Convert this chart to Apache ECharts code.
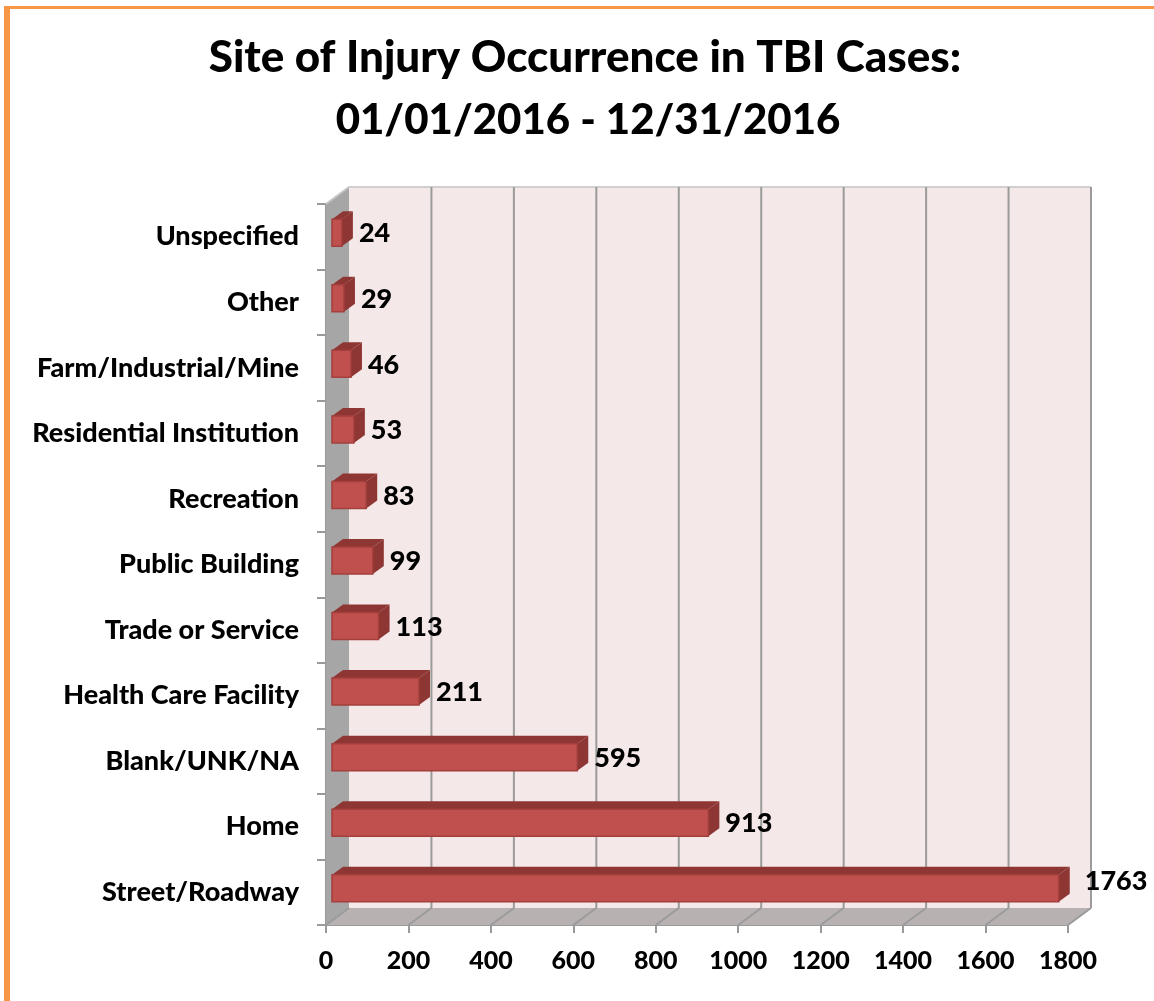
<!DOCTYPE html>
<html><head><meta charset="utf-8">
<style>html,body{margin:0;padding:0;background:#fff}#c{width:1154px;height:1001px}</style>
<script src="https://cdn.jsdelivr.net/npm/echarts@6/dist/echarts.min.js"></script>
</head><body><div id="c"></div>
<script>
const categories = ['Street/Roadway','Home','Blank/UNK/NA','Health Care Facility','Trade or Service','Public Building','Recreation','Residential Institution','Farm/Industrial/Mine','Other','Unspecified'];
const values = [1763,913,595,211,113,99,83,53,46,29,24];
const xTicks = [0,200,400,600,800,1000,1200,1400,1600,1800];
const titleLine1 = 'Site of Injury Occurrence in TBI Cases:';
const titleLine2 = '01/01/2016 - 12/31/2016';
const FONT = 'Lato';
const D = {x:23, y:-17};       // chart depth
const B = {x0:6, y0:-4, x1:17, y1:-12, h:27}; // bar depth offsets
const chart = echarts.init(document.getElementById('c'), null, {renderer:'canvas'});
const poly = (pts, style, z2) => ({type:'polygon', shape:{points:pts}, style, z2:z2||0, silent:true});
const line = (a,b,stroke,w,z2) => ({type:'line', shape:{x1:a[0],y1:a[1],x2:b[0],y2:b[1]}, style:{stroke,lineWidth:w}, z2:z2||0, silent:true});
chart.setOption({
  animation:false,
  backgroundColor:'#fff',
  title:[
    {text:titleLine1,left:580,top:31,textAlign:'center',textStyle:{fontFamily:FONT,fontWeight:900,fontSize:44,color:'#000'}},
    {text:titleLine2,left:583,top:94,textAlign:'center',textStyle:{fontFamily:FONT,fontWeight:900,fontSize:42,color:'#000'}}
  ],
  graphic:[
    {type:'rect',shape:{x:4,y:6,width:6,height:995},style:{fill:'#f79646'},silent:true},
    {type:'rect',shape:{x:4,y:6,width:1150,height:3},style:{fill:'#f79646'},silent:true}
  ],
  grid:{left:326,right:86,top:204,bottom:76,containLabel:false},
  xAxis:{type:'value',min:0,max:1800,interval:200,splitLine:{show:false},
    axisLine:{show:true,lineStyle:{color:'#9a9a9a',width:2}},
    axisTick:{show:true,length:8,lineStyle:{color:'#9a9a9a',width:2}},
    axisLabel:{fontFamily:FONT,fontWeight:900,fontSize:25,color:'#000',margin:23,formatter:v=>String(v)}},
  yAxis:{type:'category',data:categories,
    axisLine:{show:true,lineStyle:{color:'#9a9a9a',width:2}},
    axisTick:{show:true,length:9,lineStyle:{color:'#9a9a9a',width:2}},
    axisLabel:{fontFamily:FONT,fontWeight:900,fontSize:27,color:'#000',margin:27,padding:[7,0,0,0]}},
  series:[
    {type:'custom',name:'walls',coordinateSystem:'cartesian2d',clip:false,z:1,silent:true,
      data:[[0,0]],
      renderItem(p,api){
        const c=p.coordSys, L=c.x, R=c.x+c.width, T=c.y, Bt=c.y+c.height;
        return {type:'group',children:[
          poly([[L+D.x,T+D.y],[R+D.x,T+D.y],[R+D.x,Bt+D.y],[L+D.x,Bt+D.y]],{fill:'#f4e8e8'}),
          poly([[L,T],[L+D.x,T+D.y],[L+D.x,Bt+D.y],[L,Bt]],{fill:'#a6a6a6'}),
          poly([[L,Bt],[L+D.x,Bt+D.y],[R+D.x,Bt+D.y],[R,Bt]],{fill:'#b7b1b1'}),
          line([L+D.x,T+D.y],[R+D.x,T+D.y],'#cfcfcf',2),
          line([L,T],[L+D.x,T+D.y],'#c4c4c4',2)
        ]};
      }},
    {type:'custom',name:'gridlines',coordinateSystem:'cartesian2d',clip:false,z:2,silent:true,
      data:xTicks.map(t=>[t,0]),
      renderItem(p,api){
        const c=p.coordSys, x=api.coord([api.value(0),0])[0], T=c.y, Bt=c.y+c.height;
        const col='#9b9b9b';
        const kids=[line([x,Bt],[x+D.x,Bt+D.y],col,2)];
        if(api.value(0)>0) kids.push(line([x+D.x,T+D.y],[x+D.x,Bt+D.y],col,2));
        return {type:'group',children:kids};
      }},
    {type:'custom',name:'bars',coordinateSystem:'cartesian2d',clip:false,z:3,silent:true,
      data:values.map((v,i)=>[v,i]),
      renderItem(p,api){
        const v=api.value(0), i=api.value(1);
        const e=api.coord([v,i]), o=api.coord([0,i]);
        const top=e[1]+B.y0-B.h/2, bot=top+B.h;
        const xl=o[0]+B.x0, xr=e[0]+B.x0, dx=B.x1-B.x0, dy=B.y1-B.y0;
        return {type:'group',children:[
          poly([[xl,top],[xl+dx,top+dy],[xr+dx,top+dy],[xr,top]],{fill:'#8e3633'}),
          poly([[xr,top],[xr+dx,top+dy],[xr+dx,bot+dy],[xr,bot]],{fill:'#8e3633'}),
          poly([[xl,top],[xr,top],[xr,bot],[xl,bot]],{fill:'#c0504d',stroke:'#a33f3c',lineWidth:1.5})
        ]};
      }},
    {type:'custom',name:'labels',coordinateSystem:'cartesian2d',clip:false,z:4,silent:true,
      data:values.map((v,i)=>[v,i]),
      renderItem(p,api){
        const v=api.value(0), i=api.value(1), e=api.coord([v,i]);
        const top=v===values[0];
        return {type:'text',silent:true,style:{text:String(v),x:e[0]+B.x1+(top?15:6),y:e[1]+(top?-11:-3),
          fill:'#000',fontFamily:FONT,fontWeight:900,fontSize:27,align:'left',verticalAlign:'middle'}};
      }}
  ]
});
</script></body></html>
